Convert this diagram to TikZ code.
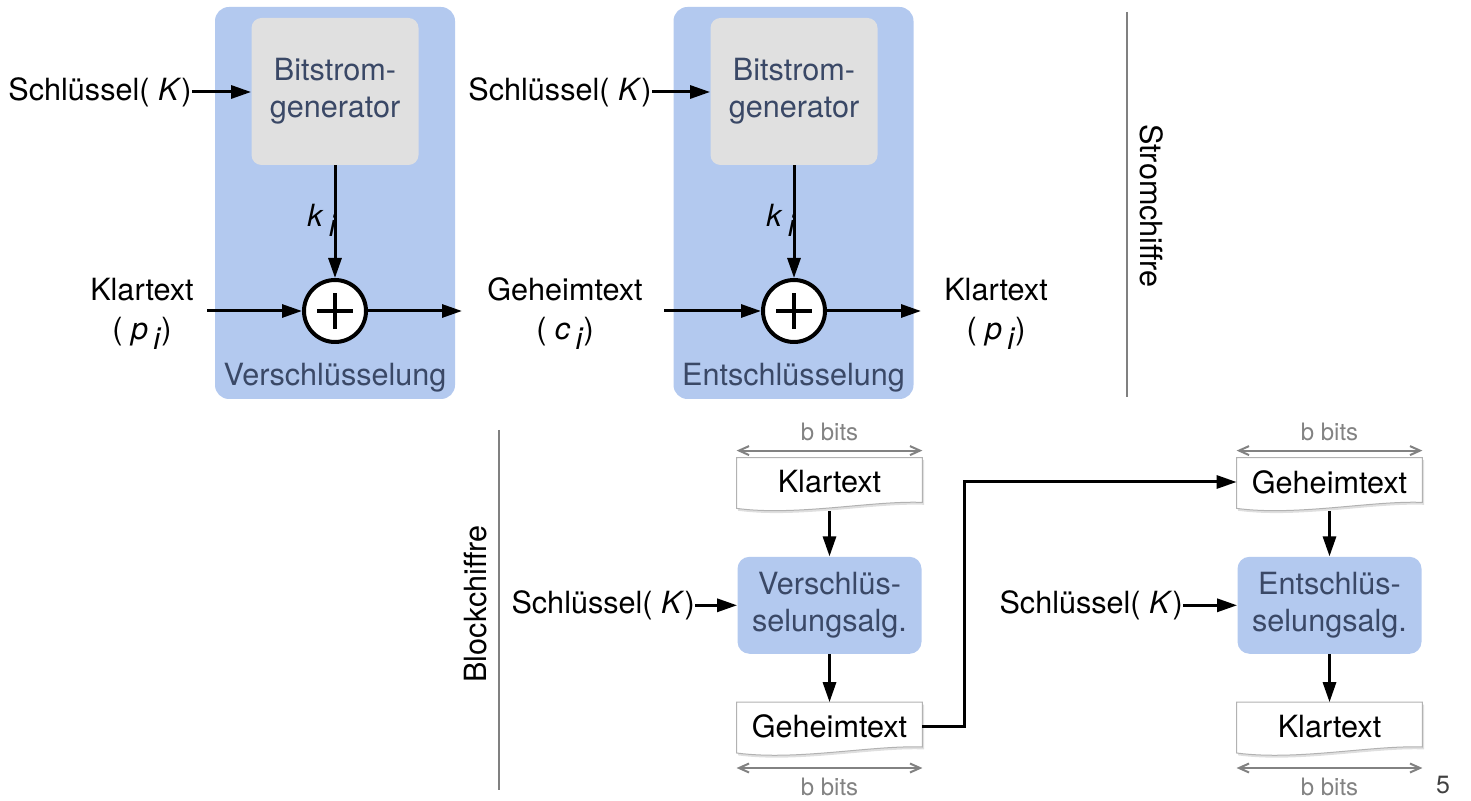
\documentclass[tikz,border=0pt]{standalone}
\usepackage{fontspec}
\setmainfont{TeX Gyre Heros}
\usepackage{tikz}
\usetikzlibrary{arrows.meta, positioning, shadows, backgrounds}
\definecolor{boxblue}{RGB}{179,201,239}
\definecolor{gengray}{RGB}{224,224,224}
\definecolor{boxtext}{RGB}{58,72,102}
\definecolor{rulegray}{RGB}{128,128,128}
\definecolor{bitgray}{RGB}{130,130,130}
\tikzset{
  lbl/.style = {inner sep=0pt},
  stage/.style = {rectangle, rounded corners=7pt, fill=boxblue,
    minimum width=120pt, minimum height=196pt},
  stagelbl/.style = {lbl, text=boxtext},
  gen/.style = {rectangle, rounded corners=5pt, fill=gengray, text=boxtext,
    align=center, minimum width=83.5pt, minimum height=73.5pt},
  xor/.style = {circle, draw=black, line width=2pt, fill=white,
    minimum size=31pt, inner sep=0pt},
  plus/.style = {line width=2pt},
  alg/.style = {rectangle, rounded corners=6pt, fill=boxblue, text=boxtext,
    align=center, minimum width=92pt, minimum height=48.5pt},
  doc/.style = {rectangle, minimum width=92.5pt, minimum height=24pt, inner sep=0pt},
  docshape/.style = {fill=white, draw=black!30, line width=0.5pt,
    drop shadow={shadow xshift=0.8pt, shadow yshift=-1.2pt, opacity=0.25}},
  flow/.style = {-{Triangle[length=10pt, width=6.5pt]}, line width=1.5pt},
  bits/.style = {{Straight Barb[length=5pt, width=4.5pt]}-{Straight Barb[length=5pt, width=4.5pt]},
    draw=bitgray, line width=1pt},
  bitlbl/.style = {text=bitgray, font=\fontsize{12pt}{14pt}\selectfont},
  sep/.style = {draw=rulegray, line width=1pt},
  pagenum/.style = {lbl, text=black!75, font=\fontsize{12.5pt}{14pt}\selectfont}
}
\newcommand{\docpath}[1]{%
  \filldraw[docshape] (#1.north west) -- (#1.north east)
    -- ([yshift=2pt]#1.south east)
    .. controls ([xshift=-25pt,yshift=3pt]#1.south east) and ([xshift=30pt,yshift=-5pt]#1.south west) ..
    ([yshift=-1pt]#1.south west) -- cycle;}

\begin{document}
\begin{tikzpicture}[x=0.5pt, y=-0.5pt, font=\fontsize{15.3pt}{18.5pt}\selectfont]
\useasboundingbox (0,0) rectangle (1471,801);

% Stromchiffre
\node[stage] (stageA) at (335,203) {};
\node[stage] (stageB) at (793.5,203) {};
\node[stagelbl] (nameA) at (335,378) {Verschlüsselung};
\node[stagelbl] (nameB) at (793.5,378) {Entschlüsselung};
\node[gen] (genA) at (335,91.5) {Bitstrom-\\generator};
\node[gen] (genB) at (794,91.5) {Bitstrom-\\generator};
\node[xor] (xorA) at (335,311) {};
\node[xor] (xorB) at (794,311) {};
\draw[plus] (xorA.center) +(-9pt,0) -- +(9pt,0) +(0,-9pt) -- +(0,9pt);
\draw[plus] (xorB.center) +(-9pt,0) -- +(9pt,0) +(0,-9pt) -- +(0,9pt);

\node[lbl, anchor=east] (keyA) at (192,92) {Schlüssel(\ \textit{K})};
\node[lbl, anchor=east] (keyB) at (652,92) {Schlüssel(\ \textit{K})};
\node[lbl, anchor=base west] (kA) at (307,227) {\textit{k}\,\raisebox{-5pt}{\textit{i}}};
\node[lbl, anchor=base west] (kB) at (766,227) {\textit{k}\,\raisebox{-5pt}{\textit{i}}};

\node[lbl, align=center] (ptA) at (142,314) {Klartext\\[1pt](\ \textit{p}\,\raisebox{-5pt}{\textit{i}})};
\node[lbl, align=center] (ctB) at (565,314) {Geheimtext\\[1pt](\ \textit{c}\,\raisebox{-5pt}{\textit{i}})};
\node[lbl, align=center] (ptB) at (996,314) {Klartext\\[1pt](\ \textit{p}\,\raisebox{-5pt}{\textit{i}})};
\coordinate (inA) at (207,311);
\coordinate (outA) at (462,311);
\coordinate (inB) at (664,311);
\coordinate (outB) at (921,311);

\draw[flow] (keyA.east) -- (keyA.east -| genA.west);
\draw[flow] (keyB.east) -- (keyB.east -| genB.west);
\draw[flow] (genA) -- (xorA);
\draw[flow] (genB) -- (xorB);
\draw[flow] (inA) -- (xorA);
\draw[flow] (xorA) -- (outA);
\draw[flow] (inB) -- (xorB);
\draw[flow] (xorB) -- (outB);

\draw[sep] (1127,12) -- (1127,397);
\node[lbl, rotate=-90] (strom) at (1152,206) {Stromchiffre};

% Blockchiffre
\draw[sep] (499,430) -- (499,790);
\node[lbl, rotate=90] (block) at (476,604) {Blockchiffre};

\node[doc] (plainC) at (829.5,482) {Klartext};
\node[alg, below=25pt of plainC] (encC) {Verschlüs-\\selungsalg.};
\node[doc, below=24pt of encC] (cipherC) {Geheimtext};
\node[lbl, left=21pt of encC] (keyC) {Schlüssel(\ \textit{K})};

\node[doc] (cipherD) at (1329.5,482) {Geheimtext};
\node[alg, below=25pt of cipherD] (decD) {Entschlüs-\\selungsalg.};
\node[doc, below=24pt of decD] (plainD) {Klartext};
\node[lbl, left=27pt of decD] (keyD) {Schlüssel(\ \textit{K})};

\begin{scope}[on background layer]
  \docpath{plainC} \docpath{cipherC} \docpath{cipherD} \docpath{plainD}
\end{scope}

\draw[flow] ([yshift=-2.5pt]plainC.south) -- (encC);
\draw[flow] (encC) -- (cipherC);
\draw[flow] ([yshift=-2.5pt]cipherD.south) -- (decD);
\draw[flow] (decD) -- (plainD);
\draw[flow] (keyC.east) -- (keyC.east -| encC.west);
\draw[flow] (keyD.east) -- (keyD.east -| decD.west);
\draw[flow] (cipherC.east) -- ++(21pt,0) |- (cipherD.west);

\draw[bits] ([yshift=3.5pt]plainC.north west) -- ([yshift=3.5pt]plainC.north east)
  node[midway, above=1pt, bitlbl] {b bits};
\draw[bits] ([yshift=-8.5pt]cipherC.south west) -- ([yshift=-8.5pt]cipherC.south east)
  node[midway, below=1pt, bitlbl] {b bits};
\draw[bits] ([yshift=3.5pt]cipherD.north west) -- ([yshift=3.5pt]cipherD.north east)
  node[midway, above=1pt, bitlbl] {b bits};
\draw[bits] ([yshift=-8.5pt]plainD.south west) -- ([yshift=-8.5pt]plainD.south east)
  node[midway, below=1pt, bitlbl] {b bits};

\node[pagenum] (page) at (1443,785) {5};
\end{tikzpicture}
\end{document}
